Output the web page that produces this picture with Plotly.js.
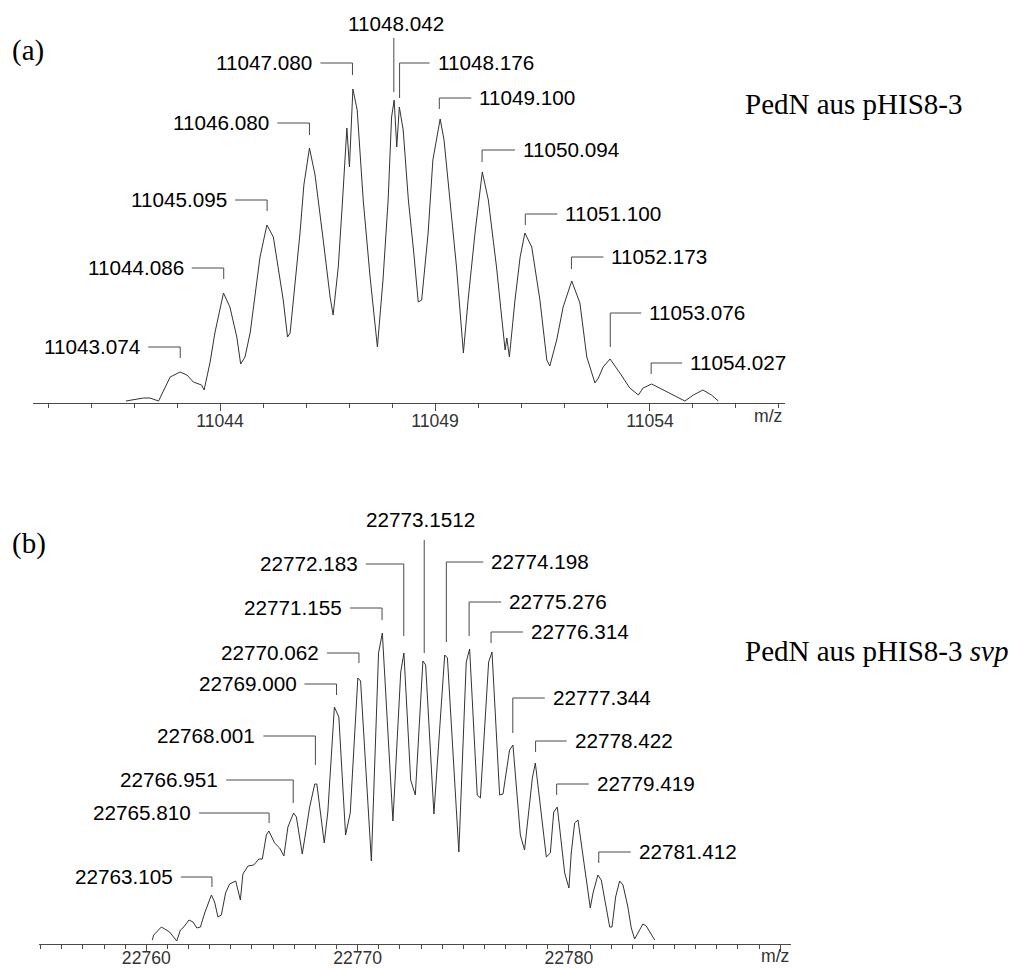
<!DOCTYPE html>
<html><head><meta charset="utf-8">
<script src="https://cdn.plot.ly/plotly-3.0.1.min.js"></script>
<style>html,body{margin:0;padding:0;background:#fff}#chart{width:1013px;height:968px}</style>
</head><body><div id="chart"></div>
<script>
// ---------- data ----------
const mzA = [11041.81,11042.22,11042.37,11042.57,11042.84,11043.07,11043.23,11043.38,11043.57,11043.63,11043.77,11043.88,11044.08,11044.23,11044.39,11044.48,11044.58,11044.70,11044.93,11045.09,11045.24,11045.47,11045.57,11045.63,11045.86,11045.95,11046.08,11046.21,11046.40,11046.56,11046.63,11046.75,11046.85,11046.95,11047.01,11047.09,11047.19,11047.33,11047.49,11047.66,11047.79,11047.91,11047.99,11048.05,11048.11,11048.17,11048.26,11048.38,11048.50,11048.61,11048.69,11048.84,11048.95,11049.12,11049.21,11049.35,11049.50,11049.66,11049.77,11049.93,11050.10,11050.24,11050.43,11050.55,11050.63,11050.67,11050.73,11050.86,11050.98,11051.09,11051.25,11051.44,11051.60,11051.67,11051.83,11051.98,11052.18,11052.37,11052.53,11052.72,11052.80,11052.91,11053.07,11053.30,11053.53,11053.73,11053.84,11054.04,11054.31,11054.54,11054.81,11055.01,11055.23,11055.43,11055.59];
const intA = [2,5,5,2,26,31,28,21,18,13,41,70,110,96,66,39,46,70,146,178,166,103,66,70,170,218,255,228,163,106,88,136,203,275,236,314,293,203,126,56,123,203,286,303,256,296,273,203,153,101,103,170,243,284,263,203,136,50,103,170,231,203,136,86,53,65,46,103,146,170,156,103,43,37,63,96,122,100,46,20,25,36,44,30,15,8,15,19,13,8,2,8,13,8,2];

const mzB = [22760.28,22760.35,22760.71,22761.10,22761.44,22761.61,22761.73,22762.02,22762.21,22762.39,22762.56,22762.76,22763.08,22763.23,22763.39,22763.55,22763.75,22763.94,22764.23,22764.45,22764.57,22764.81,22765.08,22765.33,22765.49,22765.68,22765.80,22766.07,22766.31,22766.51,22766.70,22766.97,22767.10,22767.38,22767.73,22767.97,22768.07,22768.42,22768.59,22768.90,22769.11,22769.43,22769.65,22770.01,22770.14,22770.65,22770.99,22771.17,22771.67,22772.04,22772.19,22772.51,22772.73,22773.09,22773.22,22773.61,22774.12,22774.25,22774.79,22775.14,22775.30,22775.66,22775.81,22776.20,22776.36,22776.72,22776.88,22777.19,22777.35,22777.70,22777.90,22778.27,22778.41,22778.93,22779.12,22779.28,22779.45,22779.80,22780.00,22780.11,22780.27,22780.43,22781.01,22781.14,22781.37,22781.53,22781.93,22782.04,22782.21,22782.40,22782.56,22782.79,22782.95,22783.11,22783.50,22783.66,22784.06];
const intB = [4,9,17,12,3,14,16,24,22,16,17,31,49,42,27,29,51,60,63,44,70,78,79,85,85,109,113,101,96,88,117,131,127,90,137,160,160,101,132,237,227,109,131,266,263,83,291,311,123,272,291,164,149,283,279,130,289,286,92,282,295,149,146,282,292,149,150,194,199,109,94,166,181,87,91,132,137,71,56,91,121,124,36,51,69,64,17,17,47,63,59,37,16,5,20,18,4];

const peakLabelsA = ['11043.074','11044.086','11045.095','11046.080','11047.080','11048.042','11048.176','11049.100','11050.094','11051.100','11052.173','11053.076','11054.027'];
const peakLabelsB = ['22763.105','22765.810','22766.951','22768.001','22769.000','22770.062','22771.155','22772.183','22773.1512','22774.198','22775.276','22776.314','22777.344','22778.422','22779.419','22781.412'];

const tickValsA = [11044, 11049, 11054];
const tickTextA = ['11044', '11049', '11054'];
const tickValsB = [22760, 22770, 22780, 22790];
const tickTextB = ['22760', '22770', '22780', ''];

// ---------- label leader geometry (layout, not data) ----------
const leaderA = [
  {side:'L', level:56,  tip:45,  len:32},
  {side:'L', level:135, tip:124, len:32},
  {side:'L', level:203, tip:192, len:32},
  {side:'L', level:280, tip:268, len:32},
  {side:'L', level:340, tip:328, len:32},
  {side:'T', level:365, tip:311, gap:3, shift:2},
  {side:'R', level:340, tip:305, len:30},
  {side:'R', level:305, tip:294, len:32},
  {side:'R', level:253, tip:241, len:33},
  {side:'R', level:189, tip:178, len:32},
  {side:'R', level:146, tip:134, len:32},
  {side:'R', level:90,  tip:56,  len:31},
  {side:'R', level:40,  tip:29,  len:31}
];
const leaderB = [
  {side:'L', level:67,  tip:57,  len:31},
  {side:'L', level:131, tip:121, len:70},
  {side:'L', level:164, tip:141, len:67},
  {side:'L', level:208, tip:179, len:52},
  {side:'L', level:260, tip:249, len:32},
  {side:'L', level:291, tip:281, len:32},
  {side:'L', level:336, tip:324, len:32},
  {side:'L', level:380, tip:308, len:38},
  {side:'T', level:404, tip:291, gap:9, shift:-4},
  {side:'R', level:382, tip:302, len:37},
  {side:'R', level:342, tip:308, len:32},
  {side:'R', level:312, tip:301, len:32},
  {side:'R', level:246, tip:211, len:32},
  {side:'R', level:203, tip:192, len:31},
  {side:'R', level:160, tip:149, len:32},
  {side:'R', level:92,  tip:81,  len:32}
];

const W = 1013, H = 968;
const SANS = 'Liberation Sans, Arial, Helvetica, sans-serif';
const SERIF = 'Liberation Serif, Times New Roman, serif';
const LINE = '#4a4a4a';

const shapes = [];
const annotations = [];

function addLabels(labels, geo, xr, yr) {
  labels.forEach((lab, i) => {
    const g = geo[i];
    const mz = parseFloat(lab);
    const style = {color: LINE, width: 1};
    shapes.push({type:'line', xref:xr, yref:yr, x0:mz, x1:mz, y0:g.level, y1:g.tip, line:style});
    if (g.side === 'T') {
      annotations.push({xref:xr, yref:yr, x:mz, y:g.level, text:lab, showarrow:false,
        xanchor:'center', yanchor:'bottom', xshift:g.shift || 0, yshift:g.gap - 2,
        font:{family:SANS, size:20.7, color:'#000'}});
    } else {
      const s = g.side === 'L' ? -1 : 1;
      shapes.push({type:'line', xref:xr, yref:yr, xsizemode:'pixel', xanchor:mz,
        x0:0, x1:s * g.len, y0:g.level, y1:g.level, line:style});
      annotations.push({xref:xr, yref:yr, x:mz, y:g.level, text:lab, showarrow:false,
        xanchor: s < 0 ? 'right' : 'left', yanchor:'middle',
        xshift: s * (g.len + 6), yshift: 1,
        font:{family:SANS, size:20.7, color:'#000'}});
    }
  });
}
addLabels(peakLabelsA, leaderA, 'x', 'y');
addLabels(peakLabelsB, leaderB, 'x2', 'y2');

function paperText(text, px, py, family, size, anchor, color) {
  annotations.push({xref:'paper', yref:'paper', x:px / W, y:1 - py / H, text:text, showarrow:false,
    xanchor:anchor, yanchor:'middle', font:{family:family, size:size, color:color || '#000'}});
}
paperText('(a)', 10, 51, SERIF, 29, 'left');
paperText('(b)', 10, 543, SERIF, 29, 'left');
paperText('PedN aus pHIS8-3', 743, 104, SERIF, 29, 'left');
paperText('PedN aus pHIS8-3 <i>svp</i>', 743, 651, SERIF, 29, 'left');
paperText('m/z', 768, 416, SANS, 17.6, 'center', '#333');
paperText('m/z', 775, 956, SANS, 17.6, 'center', '#333');

const traces = [
  {x: mzA, y: intA, xaxis:'x', yaxis:'y', type:'scatter', mode:'lines',
   line:{color:'#333', width:1}, hoverinfo:'skip'},
  {x: mzB, y: intB, xaxis:'x2', yaxis:'y2', type:'scatter', mode:'lines',
   line:{color:'#333', width:1}, hoverinfo:'skip'}
];

function xaxis(domain, range, vals, text, anchor, standoff) {
  return {
    domain: domain, range: range, anchor: anchor,
    tickmode:'array', tickvals: vals, ticktext: text,
    ticks:'outside', ticklen:7, tickwidth:1, tickcolor:LINE,
    ticklabelstandoff: standoff,
    showline:true, linecolor:LINE, linewidth:1,
    showgrid:false, zeroline:false,
    tickfont:{family:SANS, size:17.6, color:'#333'},
    minor:{tickmode:'linear', tick0: vals[0], dtick:1, ticks:'outside', ticklen:4, tickcolor:LINE, tickwidth:1, showgrid:false}
  };
}

const layout = {
  width: W, height: H,
  margin: {l:0, r:0, t:0, b:0},
  paper_bgcolor:'#fff', plot_bgcolor:'#fff',
  showlegend:false,
  xaxis: xaxis([33 / W, 785 / W], [11039.65, 11057.14], tickValsA, tickTextA, 'y', -5),
  yaxis: {domain:[(H - 403) / H, 1], range:[0, 403], visible:false, fixedrange:true},
  xaxis2: xaxis([39 / W, 791 / W], [22754.92, 22790.51], tickValsB, tickTextB, 'y2', -9),
  yaxis2: {domain:[(H - 944) / H, (H - 480) / H], range:[0, 464], visible:false, fixedrange:true},
  shapes: shapes,
  annotations: annotations
};

Plotly.newPlot('chart', traces, layout, {staticPlot:true, displayModeBar:false});
</script>
</body></html>
